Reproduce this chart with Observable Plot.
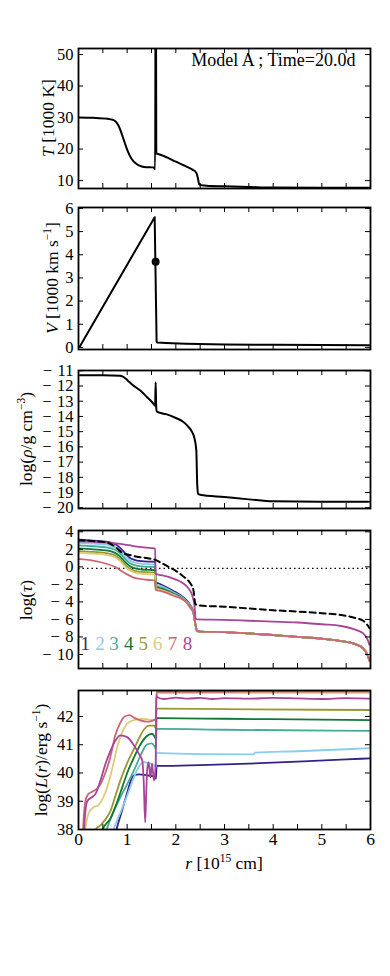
<!DOCTYPE html>
<html><head><meta charset="utf-8">
<script src="https://cdn.jsdelivr.net/npm/d3@7"></script>
<script src="https://cdn.jsdelivr.net/npm/@observablehq/plot@0.6"></script>
<style>
body{margin:0;background:#fff;}
#chart{width:390px;height:976px;}
#chart svg{display:block;}
</style></head><body><div id="chart"></div>
<script>
// ---------- data ----------
const xTickVals = [0, 0.5, 1, 1.5, 2, 2.5, 3, 3.5, 4, 4.5, 5, 5.5, 6];
const xTickLabels = [0, 1, 2, 3, 4, 5, 6];
const title = "Model A ; Time=20.0d";

// Panel 1: temperature [1000 K]
const tTicks = [10, 20, 30, 40, 50];
const rT = [0, 0.3, 0.6, 0.7, 0.78, 0.85, 0.9, 0.95, 1.0, 1.05, 1.1, 1.2, 1.3, 1.4, 1.54, 1.575, 1.585, 1.59, 1.598, 1.62, 1.8, 2.0, 2.2, 2.35, 2.42, 2.45, 2.48, 2.52, 2.7, 3.0, 3.5, 4.0, 5.0, 6.0];
const T  = [30.0, 29.9, 29.6, 29.3, 28.5, 26.5, 24.3, 22.0, 19.8, 18.0, 16.7, 15.2, 14.5, 14.25, 14.2, 13.6, 80, 80, 18.6, 18.5, 17.5, 16.0, 14.6, 13.4, 12.5, 11.0, 8.9, 8.5, 8.3, 8.2, 8.0, 7.8, 7.7, 7.7];

// Panel 2: velocity [1000 km/s]
const vTicks = [0, 1, 2, 3, 4, 5, 6];
const rV = [0.03, 1.565, 1.605, 1.62, 1.8, 2.2, 3.0, 4.0, 5.0, 5.97];
const V  = [0.05, 5.62, 0.25, 0.21, 0.19, 0.16, 0.13, 0.11, 0.10, 0.09];
const dotR = [1.585];
const dotV = [3.7];

// Panel 3: log density
const rhoTicks = [-20, -19, -18, -17, -16, -15, -14, -13, -12, -11];
const rRho = [0.03, 0.5, 0.85, 0.92, 1.0, 1.1, 1.27, 1.4, 1.55, 1.575, 1.585, 1.595, 1.605, 1.62, 1.8, 2.0, 2.15, 2.25, 2.33, 2.38, 2.42, 2.44, 2.46, 2.5, 3.0, 3.5, 4.0, 5.0, 5.97];
const rho  = [-11.3, -11.3, -11.32, -11.4, -11.6, -11.9, -12.3, -12.7, -13.2, -13.3, -11.75, -13.2, -13.65, -13.7, -13.85, -14.1, -14.35, -14.65, -15.0, -15.4, -16.2, -18.5, -19.1, -19.15, -19.3, -19.45, -19.58, -19.6, -19.6];

// Panel 4: log optical depth
const tauTicks = [-10, -8, -6, -4, -2, 0, 2, 4];
const tauOneLevel = [-0.18];
const rTau = [0, 0.3, 0.6, 0.75, 0.85, 0.95, 1.05, 1.15, 1.3, 1.45, 1.575, 1.585, 1.65, 1.8, 1.95, 2.1, 2.2, 2.3, 2.36, 2.4, 2.44, 2.5, 3.0, 3.5, 4.0, 4.5, 5.0, 5.4, 5.7, 5.85, 5.93, 5.98];
const tau1 = [3.1, 3.0, 2.85, 2.6, 2.2, 1.6, 1.05, 0.8, 0.65, 0.6, 0.58, -1.75, -1.9, -2.3, -2.75, -3.25, -3.7, -4.4, -5.1, -6.5, -7.35, -7.4, -7.45, -7.6, -7.78, -7.98, -8.2, -8.47, -8.85, -9.3, -10.0, -10.7];
const tau2 = [2.75, 2.65, 2.5, 2.25, 1.85, 1.25, 0.75, 0.5, 0.35, 0.3, 0.28, -1.95, -2.1, -2.45, -2.9, -3.35, -3.8, -4.5, -5.15, -6.5, -7.35, -7.4, -7.45, -7.6, -7.78, -7.98, -8.2, -8.47, -8.85, -9.3, -10.0, -10.7];
const tau3 = [2.45, 2.35, 2.2, 1.95, 1.55, 0.95, 0.45, 0.2, 0.05, 0.0, -0.02, -2.15, -2.3, -2.6, -3.0, -3.45, -3.85, -4.55, -5.15, -6.5, -7.35, -7.4, -7.45, -7.6, -7.78, -7.98, -8.2, -8.47, -8.85, -9.3, -10.0, -10.7];
const tau4 = [2.1, 2.0, 1.85, 1.6, 1.2, 0.6, 0.1, -0.15, -0.3, -0.35, -0.37, -2.3, -2.4, -2.7, -3.1, -3.5, -3.9, -4.6, -5.2, -6.5, -7.35, -7.4, -7.45, -7.6, -7.78, -7.98, -8.2, -8.47, -8.85, -9.3, -10.0, -10.7];
const tau5 = [1.8, 1.7, 1.55, 1.3, 0.9, 0.3, -0.2, -0.45, -0.58, -0.62, -0.65, -2.4, -2.5, -2.8, -3.15, -3.55, -3.9, -4.65, -5.2, -6.5, -7.35, -7.4, -7.45, -7.6, -7.78, -7.98, -8.2, -8.47, -8.85, -9.3, -10.0, -10.7];
const tau6 = [1.6, 1.5, 1.35, 1.1, 0.7, 0.1, -0.4, -0.65, -0.8, -0.85, -0.88, -2.5, -2.6, -2.85, -3.2, -3.58, -3.92, -4.68, -5.2, -6.5, -7.35, -7.4, -7.45, -7.6, -7.78, -7.98, -8.2, -8.47, -8.85, -9.3, -10.0, -10.7];
const tau7 = [0.9, 0.7, 0.3, 0.0, -0.35, -0.7, -1.0, -1.25, -1.4, -1.5, -1.55, -2.6, -2.7, -2.95, -3.3, -3.6, -3.95, -4.7, -5.2, -6.5, -7.35, -7.4, -7.45, -7.6, -7.78, -7.98, -8.2, -8.47, -8.85, -9.3, -10.0, -10.7];
const rTau8 = [0, 0.3, 0.6, 0.8, 0.95, 1.1, 1.3, 1.5, 1.575, 1.585, 1.7, 1.85, 2.0, 2.1, 2.2, 2.28, 2.34, 2.38, 2.41, 2.45, 3.0, 3.5, 4.0, 4.5, 5.0, 5.4, 5.7, 5.85, 5.93, 5.98];
const tau8  = [2.9, 2.85, 2.75, 2.65, 2.55, 2.4, 2.25, 2.15, 2.1, -0.8, -0.95, -1.15, -1.45, -1.7, -2.1, -2.6, -3.3, -4.3, -5.9, -6.0, -6.05, -6.15, -6.25, -6.35, -6.55, -6.75, -7.2, -7.6, -8.2, -8.9];
const rTauRoss = [0, 0.3, 0.6, 0.75, 0.9, 1.05, 1.2, 1.4, 1.58, 1.7, 1.85, 2.0, 2.1, 2.2, 2.3, 2.36, 2.4, 2.45, 3.0, 3.5, 4.0, 4.5, 5.0, 5.4, 5.7, 5.85, 5.93, 5.98];
const tauRoss  = [3.05, 2.95, 2.75, 2.3, 1.6, 1.35, 1.15, 1.0, 0.8, 0.45, 0.0, -0.45, -0.85, -1.3, -1.9, -2.6, -4.2, -4.4, -4.55, -4.75, -4.95, -5.1, -5.3, -5.5, -5.85, -6.15, -6.6, -7.0];
const seriesNames = ["1", "2", "3", "4", "5", "6", "7", "8"];
const seriesColors = ["#332288", "#88CCEE", "#44AA99", "#117733", "#999933", "#DDCC77", "#CC6677", "#AA4499"];
const labelR = [0.14, 0.44, 0.73, 1.03, 1.33, 1.63, 1.93, 2.24];
const labelTau = [-8.75, -8.75, -8.75, -8.75, -8.75, -8.75, -8.75, -8.75];

// Panel 5: log luminosity
const lTicks = [38, 39, 40, 41, 42];
const rL1 = [0.72, 0.78, 0.9, 1.0, 1.08, 1.14, 1.25, 1.4, 1.55, 1.59, 1.605, 1.7, 2.5, 3.5, 4.5, 5.5, 6.0];
const L1  = [37.6, 38.0, 38.7, 39.3, 39.75, 39.92, 39.95, 39.92, 39.88, 39.8, 40.26, 40.25, 40.28, 40.33, 40.4, 40.48, 40.52];
const rL2 = [0.66, 0.72, 0.85, 1.0, 1.14, 1.27, 1.35, 1.45, 1.55, 1.59, 1.605, 1.7, 2.5, 3.6, 3.62, 4.5, 5.5, 6.0];
const L2  = [37.6, 38.0, 38.55, 39.2, 39.85, 40.3, 40.38, 40.35, 40.28, 40.2, 40.72, 40.7, 40.67, 40.66, 40.72, 40.77, 40.84, 40.88];
const rL3 = [0.52, 0.58, 0.7, 0.86, 1.0, 1.14, 1.27, 1.4, 1.5, 1.56, 1.59, 1.605, 1.65, 3.0, 6.0];
const L3  = [37.6, 38.0, 38.55, 39.14, 39.6, 40.09, 40.6, 41.0, 41.05, 40.95, 40.85, 41.56, 41.56, 41.53, 41.49];
const rL4 = [0.45, 0.5, 0.66, 0.8, 0.9, 1.0, 1.14, 1.27, 1.4, 1.51, 1.56, 1.59, 1.605, 1.65, 3.0, 6.0];
const L4  = [37.6, 38.0, 38.4, 39.0, 39.5, 40.0, 40.55, 41.0, 41.3, 41.39, 41.3, 41.2, 41.94, 41.94, 41.92, 41.87];
const rL5 = [0.3, 0.35, 0.45, 0.55, 0.66, 0.76, 0.86, 1.0, 1.14, 1.25, 1.35, 1.45, 1.55, 1.585, 1.605, 1.65, 3.0, 6.0];
const L5  = [37.6, 38.0, 38.15, 38.35, 38.67, 39.2, 39.73, 40.35, 40.85, 41.25, 41.55, 41.68, 41.68, 41.6, 42.28, 42.28, 42.26, 42.23];
const rL6 = [0.1, 0.14, 0.2, 0.3, 0.4, 0.5, 0.6, 0.7, 0.8, 0.9, 1.0, 1.1, 1.2, 1.35, 1.5, 1.585, 1.605, 1.65, 3.0, 6.0];
const L6  = [37.5, 38.0, 38.55, 38.78, 38.85, 39.1, 39.55, 40.2, 40.95, 41.45, 41.75, 41.85, 41.9, 41.92, 41.88, 41.9, 42.8, 42.83, 42.84, 42.84];
const rL7 = [0.08, 0.11, 0.14, 0.2, 0.3, 0.38, 0.45, 0.55, 0.66, 0.75, 0.85, 0.95, 1.05, 1.15, 1.27, 1.4, 1.5, 1.585, 1.605, 1.65, 2.5, 3.5, 4.5, 5.5, 6.0];
const L7  = [37.5, 38.5, 39.0, 39.25, 39.35, 39.45, 39.6, 40.0, 40.6, 41.3, 41.75, 42.0, 42.05, 41.95, 41.86, 41.82, 41.84, 41.9, 42.86, 42.87, 42.87, 42.88, 42.88, 42.88, 42.88];
const rL8 = [0.1, 0.13, 0.18, 0.28, 0.35, 0.45, 0.55, 0.66, 0.76, 0.86, 1.0, 1.14, 1.25, 1.31, 1.34, 1.37, 1.39, 1.41, 1.44, 1.48, 1.51, 1.55, 1.585, 1.6, 1.62, 1.75, 2.0, 2.25, 2.5, 2.75, 3.0, 3.5, 4.0, 4.5, 5.0, 5.5, 6.0];
const L8  = [37.5, 38.4, 39.0, 39.15, 39.26, 39.73, 40.3, 40.8, 41.15, 41.33, 41.27, 40.97, 40.65, 40.44, 39.7, 38.25, 39.2, 40.1, 40.38, 39.85, 40.33, 39.73, 40.3, 42.75, 42.68, 42.62, 42.67, 42.63, 42.66, 42.62, 42.65, 42.63, 42.66, 42.64, 42.62, 42.65, 42.63];

// ---------- helpers ----------
const ML = 78, MR = 20, W = 390;
const IW = W - ML - MR;
const FONT = "'Liberation Serif', 'Times New Roman', serif";
const TICK_FS = 16.5;
const pts = (xs, ys) => xs.map((x, i) => ({x, y: ys[i]}));
const fmt = d => d < 0 ? "\u2212\u2004" + Math.abs(d) : String(d);
const curve = "monotone-x";

function line(xs, ys, stroke, extra = {}) {
  return Plot.line(pts(xs, ys), {x: "x", y: "y", stroke, strokeWidth: 1.8, curve, clip: true, ...extra});
}

function panel(cfg) {
  const ih = cfg.frameH;
  const marks = [
    ...cfg.marks,
    Plot.tickX(xTickVals, {x: d => d, insetTop: ih - 5, stroke: "#000", strokeWidth: 1}),
    Plot.tickX(xTickVals, {x: d => d, insetBottom: ih - 5, stroke: "#000", strokeWidth: 1}),
    Plot.tickY(cfg.yTicks, {y: d => d, insetRight: IW - 5, stroke: "#000", strokeWidth: 1}),
    Plot.tickY(cfg.yTicks, {y: d => d, insetLeft: IW - 5, stroke: "#000", strokeWidth: 1}),
    Plot.axisY({ticks: cfg.yTicks, anchor: "left", tickSize: 0, tickPadding: 5, tickFormat: fmt, label: null, fontSize: TICK_FS}),
    Plot.frame({stroke: "#000", strokeWidth: 1.8})
  ];
  if (cfg.xLabels) marks.push(Plot.axisX({ticks: xTickLabels, anchor: "bottom", tickSize: 0, tickPadding: 3, tickFormat: fmt, label: null, fontSize: 17.5}));
  const svg = Plot.plot({
    width: W,
    height: cfg.mt + ih + cfg.mb,
    marginLeft: ML, marginRight: MR, marginTop: cfg.mt, marginBottom: cfg.mb,
    x: {domain: [0, 6], axis: null},
    y: {domain: cfg.yDomain, axis: null},
    style: {fontFamily: FONT, fontSize: TICK_FS + "px", background: "transparent", color: "#000", overflow: "visible"},
    marks
  });
  document.getElementById("chart").appendChild(svg);
  return svg;
}

function addLabel(svg, x, y, parts, rotate) {
  const fs = 17.5;
  const t = d3.select(svg).append("text")
    .attr("transform", rotate ? `translate(${x + fs * 0.33},${y}) rotate(-90)` : `translate(${x},${y + fs * 0.33})`)
    .attr("text-anchor", "middle")
    .attr("font-family", FONT)
    .attr("font-size", fs)
    .attr("fill", "#000");
  let prevSup = false;
  parts.forEach(p => {
    const s = t.append("tspan").text(p.t);
    if (p.i) s.attr("font-style", "italic");
    if (p.sup) { s.attr("font-size", 11.5).attr("dy", -7); prevSup = true; }
    else if (prevSup) { s.attr("dy", 7); prevSup = false; }
  });
}

// ---------- panels ----------
const s1 = panel({
  mt: 48, frameH: 140, mb: 9, yDomain: [7.5, 51.9], yTicks: tTicks,
  marks: [
    line(rT, T, "#000", {strokeWidth: 2}),
    Plot.text([title], {frameAnchor: "top-right", textAnchor: "end", lineAnchor: "top", dx: -15, dy: 5, fontSize: 18, fill: "#000"})
  ]
});
addLabel(s1, 48, 118, [{t: "T", i: true}, {t: " [1000 K]"}], true);

const s2 = panel({
  mt: 10, frameH: 142, mb: 10, yDomain: [-0.09, 6.04], yTicks: vTicks,
  marks: [
    Plot.line(pts(rV, V), {x: "x", y: "y", stroke: "#000", strokeWidth: 2, clip: true}),
    Plot.dot(pts(dotR, dotV), {x: "x", y: "y", r: 4, fill: "#000"})
  ]
});
addLabel(s2, 52, 81, [{t: "V", i: true}, {t: " [1000 km s"}, {t: "\u22121", sup: true}, {t: "]"}], true);

const s3 = panel({
  mt: 11, frameH: 138, mb: 11, yDomain: [-20.05, -10.98], yTicks: rhoTicks,
  marks: [line(rRho, rho, "#000", {strokeWidth: 2})]
});
addLabel(s3, 26, 80, [{t: "log("}, {t: "\u03c1", i: true}, {t: "/g cm"}, {t: "\u22123", sup: true}, {t: ")"}], true);

const tauCurves = [tau1, tau2, tau3, tau4, tau5, tau6, tau7];
const s4 = panel({
  mt: 11, frameH: 138, mb: 11, yDomain: [-11.6, 4.15], yTicks: tauTicks,
  marks: [
    Plot.ruleY(tauOneLevel, {y: d => d, stroke: "#000", strokeWidth: 1.2, strokeDasharray: "1.5,3"}),
    ...tauCurves.map((c, i) => line(rTau, c, seriesColors[i])),
    line(rTau8, tau8, seriesColors[7]),
    line(rTauRoss, tauRoss, "#000", {strokeWidth: 2, strokeDasharray: "6,4"}),
    ...seriesNames.map((n, i) => Plot.text([n], {x: [labelR[i]], y: [labelTau[i]], text: d => d, fill: seriesColors[i], fontSize: 19}))
  ]
});
addLabel(s4, 26, 81, [{t: "log("}, {t: "\u03c4", i: true}, {t: ")"}], true);

const lr = [rL1, rL2, rL3, rL4, rL5, rL6, rL7, rL8];
const lv = [L1, L2, L3, L4, L5, L6, L7, L8];
const s5 = panel({
  mt: 11, frameH: 139, mb: 147, yDomain: [38, 42.92], yTicks: lTicks, xLabels: true,
  marks: lr.map((r, i) => line(r, lv[i], seriesColors[i]))
});
addLabel(s5, 41, 81, [{t: "log("}, {t: "L", i: true}, {t: "("}, {t: "r", i: true}, {t: ")/erg s"}, {t: "\u22121", sup: true}, {t: ")"}], true);
addLabel(s5, 224, 184, [{t: "r", i: true}, {t: " [10"}, {t: "15", sup: true}, {t: " cm]"}], false);
</script></body></html>
